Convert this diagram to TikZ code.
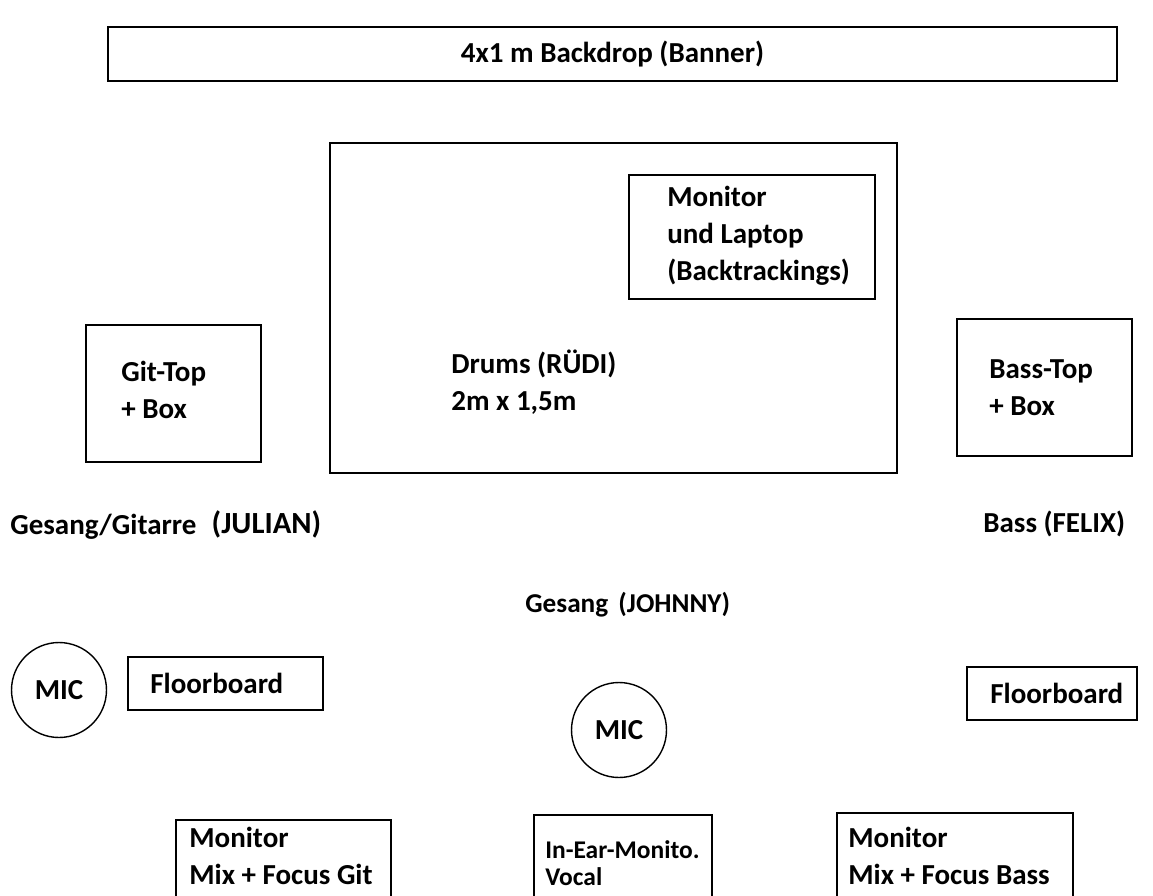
\documentclass[tikz,border=0pt]{standalone}
\usepackage{fontspec}
\setmainfont{Carlito}
\usetikzlibrary{fit}

\tikzset{
  box/.style={draw, line width=1pt, inner sep=0pt},
  lbl/.style={font=\fontsize{16.5}{21}\selectfont\bfseries, align=left, anchor=west, inner sep=0pt},
  mic/.style={draw, circle, line width=0.8pt, minimum size=1.9cm, inner sep=0pt,
    font=\fontsize{16.5}{21}\selectfont\bfseries}
}

\begin{document}
\begin{tikzpicture}[x=0.02cm, y=-0.02cm]
  \useasboundingbox (0,0) rectangle (1153,896);
  \clip (0,0) rectangle (1153,896);

  % Backdrop
  \node[box, fit={(108,27) (1117,81)}] (banner) {};
  \node[lbl, anchor=center] (bannertext) at (banner.center) {4x1 m Backdrop (Banner)};

  % Drums
  \node[box, fit={(330,143) (897,473)}] (drums) {};
  \node[box, fit={(629,175) (875,299)}] (laptop) {};
  \node[lbl] (laptoptext) at (667,236) {Monitor\\und Laptop\\(Backtrackings)};
  \node[lbl] (drumstext) at (451,382) {Drums (RÜDI)\\2m x 1,5m};

  % Amps
  \node[box, fit={(86,325) (261,462)}] (gittop) {};
  \node[lbl] (gittoptext) at (121,390) {Git-Top\\+ Box};
  \node[box, fit={(957,319) (1132,456)}] (basstop) {};
  \node[lbl] (basstoptext) at (989,388) {Bass-Top\\+ Box};

  % Musicians
  \node[lbl] (julian) at (10,525) {Gesang/Gitarre\hspace{0.3em} \raisebox{0.8pt}{\fontsize{17.5}{21}\selectfont (JULIAN)}};
  \node[lbl] (felix) at (983,524) {Bass (FELIX)};
  \node[lbl, font=\fontsize{15.5}{21}\selectfont\bfseries] (johnny) at (525,605) {Gesang\hspace{0.15em} (JOHNNY)};

  % Front line
  \node[mic] (micleft) at (59,690) {MIC};
  \node[box, fit={(128,657) (323,710)}] (floorleft) {};
  \node[lbl] (floorlefttext) at (150,683) {Floorboard};
  \node[mic] (micmid) at (619,730) {MIC};
  \node[box, fit={(967,667) (1137,720)}] (floorright) {};
  \node[lbl] (floorrighttext) at (990,693) {Floorboard};

  % Monitors
  \node[box, fit={(176,820) (391,920)}] (monleft) {};
  \node[lbl] (monlefttext) at (189,856) {Monitor\\Mix + Focus Git};
  \node[box, fit={(534,815) (712,920)}] (inear) {};
  \node[lbl, font=\fontsize{14.5}{15.5}\selectfont\bfseries] (ineartext) at (545,863) {In-Ear-Monito.\\Vocal};
  \node[box, fit={(837,813) (1073,920)}] (monright) {};
  \node[lbl] (monrighttext) at (848,856) {Monitor\\Mix + Focus Bass};
\end{tikzpicture}
\end{document}
